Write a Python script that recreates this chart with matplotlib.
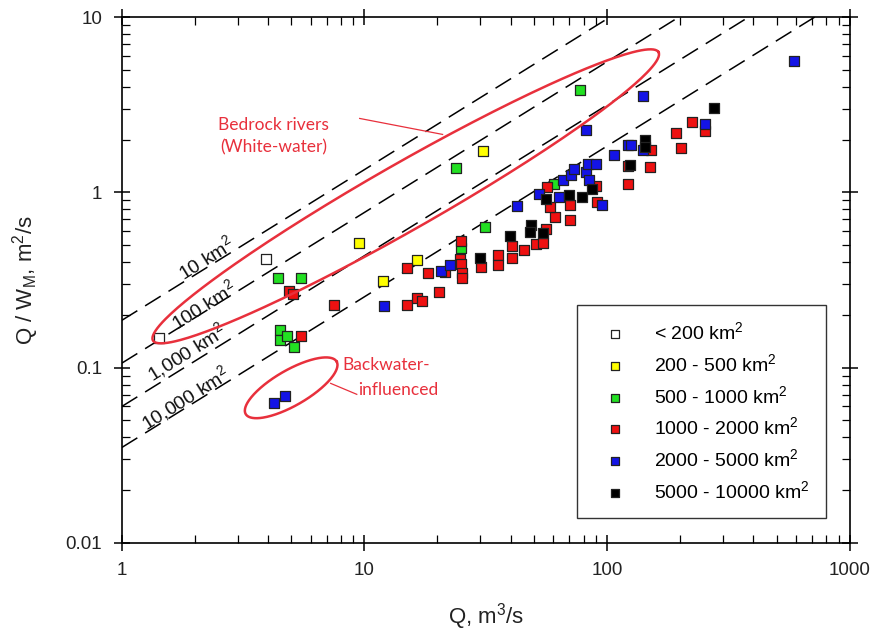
import numpy as np
import matplotlib
matplotlib.use('Agg')
import matplotlib.pyplot as plt

plt.rcParams['font.family'] = ['Liberation Sans', 'DejaVu Sans']
plt.rcParams['mathtext.fontset'] = 'custom'
plt.rcParams['mathtext.rm'] = 'Liberation Sans'
plt.rcParams['mathtext.it'] = 'Liberation Sans:italic'

# data: Q (m3/s) and Q/W_M (m2/s) by drainage area class
white_q = [1.42, 3.92]
white_r = [0.147, 0.415]

yellow_q = [9.5, 11.9, 16.5, 30.8]
yellow_r = [0.514, 0.311, 0.409, 1.72]

green_q = [4.41, 5.46, 4.48, 4.48, 4.80, 5.13, 23.8, 25.1, 31.3, 60.3, 77.1]
green_r = [0.326, 0.326, 0.163, 0.143, 0.151, 0.131, 1.38, 0.483, 0.634, 1.11, 3.85]

red_q = [4.89, 5.08, 7.50, 5.46, 15.0, 15.0, 16.5, 17.3, 18.3, 20.3,
         21.4, 24.9, 24.7, 25.0, 25.3, 25.3, 30.3, 35.5, 35.5, 40.6,
         40.6, 45.5, 50.8, 54.4, 55.8, 60.8, 58.0, 56.5, 70.6, 70.6,
         90.3, 91.2, 122, 122, 152, 151, 193, 202, 224, 254]
red_r = [0.272, 0.264, 0.229, 0.151, 0.370, 0.229, 0.251, 0.240, 0.347, 0.270,
         0.351, 0.525, 0.418, 0.388, 0.347, 0.326, 0.375, 0.437, 0.387, 0.492,
         0.422, 0.467, 0.510, 0.514, 0.621, 0.723, 0.824, 1.07, 0.843, 0.699,
         1.08, 0.88, 1.41, 1.12, 1.74, 1.39, 2.18, 1.80, 2.52, 2.23]

blue_q = [4.24, 4.71, 12.0, 20.6, 22.5, 42.7, 52.3, 63.4, 65.8, 70.8,
          72.8, 81.6, 83.4, 90.3, 84.2, 95.6, 82.2, 106.4, 122, 126,
          140.6, 140.6, 252.5, 589]
blue_r = [0.063, 0.069, 0.224, 0.356, 0.383, 0.835, 0.98, 0.94, 1.18, 1.26,
          1.35, 1.31, 1.46, 1.46, 1.17, 0.843, 2.28, 1.63, 1.87, 1.87,
          1.74, 3.53, 2.46, 5.61]

black_q = [277, 142.9, 142.9, 124, 87, 78.9, 69.7, 55.8, 48.8, 48.0, 54.3, 39.7, 29.9]
black_r = [3.01, 1.98, 1.81, 1.44, 1.04, 0.94, 0.96, 0.92, 0.648, 0.594, 0.584, 0.561, 0.42]

class_labels = ['< 200 km$^2$', '200 - 500 km$^2$', '500 - 1000 km$^2$',
                '1000 - 2000 km$^2$', '2000 - 5000 km$^2$', '5000 - 10000 km$^2$']

# reference lines Q/W = c * Q^0.86 for drainage areas
line_areas = ['10 km$^2$', '100 km$^2$', '1,000 km$^2$', '10,000 km$^2$']
line_coef = [0.186, 0.106, 0.060, 0.035]
line_exp = 0.86

fig = plt.figure(figsize=(8.76, 6.32), dpi=100)
ax = fig.add_axes([0.139, 0.141, 0.831, 0.832])
ax.set_xscale('log')
ax.set_yscale('log')
ax.set_xlim(1, 1000)
ax.set_ylim(0.01, 10)

qq = np.logspace(0, 3, 200)
for c in line_coef:
    ax.plot(qq, c * qq ** line_exp, color='black', lw=1.1,
            dashes=(12, 6), zorder=1)

# km2 labels along the lines
lab_pos = [(2.22, 0.42), (2.18, 0.227), (1.84, 0.122), (1.82, 0.067)]
for (lx, ly), txt in zip(lab_pos, line_areas):
    ax.text(lx, ly, txt, fontsize=14, rotation=32, ha='center', va='center',
            rotation_mode='anchor', color='#111111', zorder=2)

groups = [(white_q, white_r, 'white'), (yellow_q, yellow_r, '#ffff00'),
          (green_q, green_r, '#22e022'), (red_q, red_r, '#ee1111'),
          (blue_q, blue_r, '#1414e6'), (black_q, black_r, 'black')]
for (xq, yr, col), lab in zip(groups, class_labels):
    ax.scatter(xq, yr, marker='s', s=44, c=col, edgecolors='#222222',
               linewidths=0.9, label=lab, zorder=3)

# red ellipses, built in display pixels so they look right on log axes
red = '#e8303c'


def ellipse(cx, cy, a, b, ang):
    px, py = ax.transData.transform((cx, cy))
    t = np.linspace(0, 2 * np.pi, 300)
    th = np.radians(ang)
    ex = px + a * np.cos(t) * np.cos(th) - b * np.sin(t) * np.sin(th)
    ey = py + a * np.cos(t) * np.sin(th) + b * np.sin(t) * np.cos(th)
    d = ax.transData.inverted().transform(np.column_stack([ex, ey]))
    ax.plot(d[:, 0], d[:, 1], color=red, lw=1.8, zorder=4)


ellipse(14.8, 0.949, 291, 33, 29.7)
ellipse(4.99, 0.0767, 52.5, 17.7, 30)

ax.plot([9.56, 21.0], [2.64, 2.14], color=red, lw=0.9, zorder=4)
ax.text(4.23, 2.09, 'Bedrock rivers\n(White-water)', color=red, fontsize=12.5,
        family='Lato', ha='center', va='center', linespacing=1.5)
ax.plot([7.26, 9.3], [0.0813, 0.0704], color=red, lw=0.9, zorder=4)
ax.text(8.14, 0.103, 'Backwater-', color=red, fontsize=12.5, family='Lato',
        ha='left', va='center')
ax.text(9.38, 0.0742, 'influenced', color=red, fontsize=12.5, family='Lato',
        ha='left', va='center')

ax.set_xticks([1, 10, 100, 1000])
ax.set_xticklabels(['1', '10', '100', '1000'])
ax.set_yticks([0.01, 0.1, 1, 10])
ax.set_yticklabels(['0.01', '0.1', '1', '10'])
ax.tick_params(which='major', direction='inout', length=12, width=1.1,
               labelsize=13.5, top=True, right=True, pad=8, labelcolor='#222222')
ax.tick_params(which='minor', direction='in', length=6, width=0.9,
               top=True, right=True)
for sp in ax.spines.values():
    sp.set_linewidth(1.2)

ax.set_xlabel('Q, m$^3$/s', fontsize=16, labelpad=16, color='#222222')
ax.set_ylabel('Q / W$_\\mathrm{M}$, m$^2$/s', fontsize=16, labelpad=18,
              color='#222222')

leg = ax.legend(loc='lower right', bbox_to_anchor=(0.967, 0.047),
                fontsize=14, markerscale=0.8, frameon=True, fancybox=False,
                edgecolor='black', borderpad=0.85, labelspacing=0.5,
                handlelength=2.2, handletextpad=0.9, borderaxespad=0)
leg.get_frame().set_linewidth(1.0)

fig.savefig('out.png', dpi=100)
